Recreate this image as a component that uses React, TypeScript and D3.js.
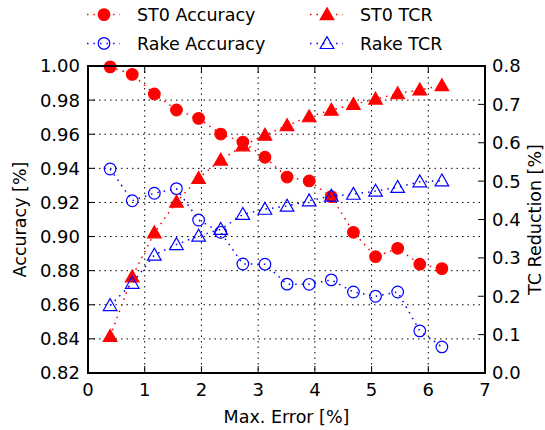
import React from "react";
import * as d3 from "d3";

const xValues = [0.39, 0.78, 1.17, 1.56, 1.95, 2.34, 2.73, 3.12, 3.51, 3.9, 4.29, 4.68, 5.07, 5.46, 5.85, 6.24];
const st0Accuracy = [0.9995, 0.9951, 0.9836, 0.9742, 0.9693, 0.9601, 0.9554, 0.9465, 0.9349, 0.9326, 0.9234, 0.9025, 0.8882, 0.8931, 0.8838, 0.8812];
const rakeAccuracy = [0.9396, 0.921, 0.9254, 0.9281, 0.9097, 0.9025, 0.8839, 0.8838, 0.8721, 0.872, 0.8746, 0.8675, 0.865, 0.8675, 0.8447, 0.8353];
const st0TCR = [0.0956, 0.251, 0.3656, 0.4456, 0.5074, 0.555, 0.5923, 0.62, 0.645, 0.668, 0.685, 0.7, 0.714, 0.728, 0.738, 0.749];
const rakeTCR = [0.176, 0.234, 0.3075, 0.335, 0.357, 0.3745, 0.4135, 0.427, 0.435, 0.449, 0.461, 0.466, 0.474, 0.484, 0.4985, 0.501];

const xTicks = [0, 1, 2, 3, 4, 5, 6, 7];
const yLeftTicks = [0.82, 0.84, 0.86, 0.88, 0.9, 0.92, 0.94, 0.96, 0.98, 1.0];
const yRightTicks = [0.0, 0.1, 0.2, 0.3, 0.4, 0.5, 0.6, 0.7, 0.8];

const legendLabels = ["ST0 Accuracy", "Rake Accuracy", "ST0 TCR", "Rake TCR"];

const W = 545, H = 430;
const L = 88, R = 485, T = 66, B = 373;
const FONT = "DejaVu Sans";
const RED = "#ff0000";
const BLUE = "#0000ff";
const TICK_FS = 18;
const LABEL_FS = 17.5;

function Marker({ kind, x, y, color, filled }: { kind: string; x: number; y: number; color: string; filled: boolean }) {
  if (kind === "circle") {
    return <circle cx={x} cy={y} r={5.8} fill={filled ? color : "none"} stroke={color} strokeWidth={1.2} />;
  }
  const s = 6.8;
  const pts = `${x},${y - s} ${x - s},${y + s * 0.75} ${x + s},${y + s * 0.75}`;
  return <polygon points={pts} fill={filled ? color : "none"} stroke={color} strokeWidth={1.2} />;
}

export default function App() {
  const x = d3.scaleLinear().domain([0, 7]).range([L, R]);
  const yL = d3.scaleLinear().domain([0.82, 1.0]).range([B, T]);
  const yR = d3.scaleLinear().domain([0, 0.8]).range([B, T]);

  const series = [
    { vals: st0Accuracy, scale: yL, color: RED, kind: "circle", filled: true },
    { vals: rakeAccuracy, scale: yL, color: BLUE, kind: "circle", filled: false },
    { vals: st0TCR, scale: yR, color: RED, kind: "tri", filled: true },
    { vals: rakeTCR, scale: yR, color: BLUE, kind: "tri", filled: false },
  ];

  const legendItems = [
    { label: legendLabels[0], color: RED, kind: "circle", filled: true, lx: 87, ly: 14.6 },
    { label: legendLabels[1], color: BLUE, kind: "circle", filled: false, lx: 87, ly: 43.4 },
    { label: legendLabels[2], color: RED, kind: "tri", filled: true, lx: 310, ly: 14.6 },
    { label: legendLabels[3], color: BLUE, kind: "tri", filled: false, lx: 310, ly: 43.4 },
  ];

  return (
    <svg width={W} height={H} style={{ position: "absolute", left: 0, top: 0, background: "#fff" }} fontFamily={FONT}>
      <rect x={0} y={0} width={W} height={H} fill="#fff" />
      <defs>
        <clipPath id="plot">
          <rect x={L - 8} y={T - 8} width={R - L + 16} height={B - T + 16} />
        </clipPath>
      </defs>
      {/* grid */}
      {xTicks.slice(1, -1).map((t) => (
        <line key={"gx" + t} x1={x(t)} x2={x(t)} y1={T} y2={B} stroke="#000" strokeWidth={1} strokeDasharray="1.5,4" />
      ))}
      {yLeftTicks.slice(1, -1).map((t) => (
        <line key={"gy" + t} x1={L} x2={R} y1={yL(t)} y2={yL(t)} stroke="#000" strokeWidth={1} strokeDasharray="1.5,4" />
      ))}
      {/* series */}
      <g clipPath="url(#plot)">
        {series.map((s, i) => {
          const line = d3.line<number>().x((_, j) => x(xValues[j])).y((d) => s.scale(d));
          return (
            <g key={i}>
              <path d={line(s.vals) || ""} fill="none" stroke={s.color} strokeWidth={1.5} strokeDasharray="1.5,5" />
              {s.vals.map((v, j) => (
                <Marker key={j} kind={s.kind} x={x(xValues[j])} y={s.scale(v)} color={s.color} filled={s.filled} />
              ))}
            </g>
          );
        })}
      </g>
      {/* ticks */}
      {xTicks.map((t) => (
        <g key={"xt" + t}>
          <line x1={x(t)} x2={x(t)} y1={B} y2={B - 7} stroke="#000" strokeWidth={1} />
          <line x1={x(t)} x2={x(t)} y1={T} y2={T + 7} stroke="#000" strokeWidth={1} />
          <text x={x(t)} y={396} textAnchor="middle" fontSize={TICK_FS} fill="#000">{t}</text>
        </g>
      ))}
      {yLeftTicks.map((t) => (
        <g key={"yl" + t}>
          <line x1={L} x2={L + 7} y1={yL(t)} y2={yL(t)} stroke="#000" strokeWidth={1} />
          <text x={80} y={yL(t)} dy="0.36em" textAnchor="end" fontSize={TICK_FS} fill="#000">{t.toFixed(2)}</text>
        </g>
      ))}
      {yRightTicks.map((t) => (
        <g key={"yr" + t}>
          <line x1={R} x2={R - 7} y1={yR(t)} y2={yR(t)} stroke="#000" strokeWidth={1} />
          <text x={492} y={yR(t)} dy="0.36em" textAnchor="start" fontSize={TICK_FS} fill="#000">{t.toFixed(1)}</text>
        </g>
      ))}
      {/* frame */}
      <rect x={L} y={T} width={R - L} height={B - T} fill="none" stroke="#000" strokeWidth={2} />
      {/* axis labels */}
      <text x={(L + R) / 2} y={423} textAnchor="middle" fontSize={LABEL_FS} fill="#000">Max. Error [%]</text>
      <text transform={`translate(26,${(T + B) / 2}) rotate(-90)`} textAnchor="middle" fontSize={LABEL_FS} fill="#000">Accuracy [%]</text>
      <text transform={`translate(541,${(T + B) / 2}) rotate(-90)`} textAnchor="middle" fontSize={LABEL_FS} fill="#000">TC Reduction [%]</text>
      {/* legend */}
      {legendItems.map((it, i) => (
        <g key={"lg" + i}>
          <line x1={it.lx} x2={it.lx + 33} y1={it.ly} y2={it.ly} stroke={it.color} strokeWidth={1.5} strokeDasharray="1.5,5" />
          <Marker kind={it.kind} x={it.lx + 17} y={it.ly} color={it.color} filled={it.filled} />
          <text x={it.lx + 50} y={it.ly} dy="0.36em" fontSize={LABEL_FS} fill="#000">{it.label}</text>
        </g>
      ))}
    </svg>
  );
}
